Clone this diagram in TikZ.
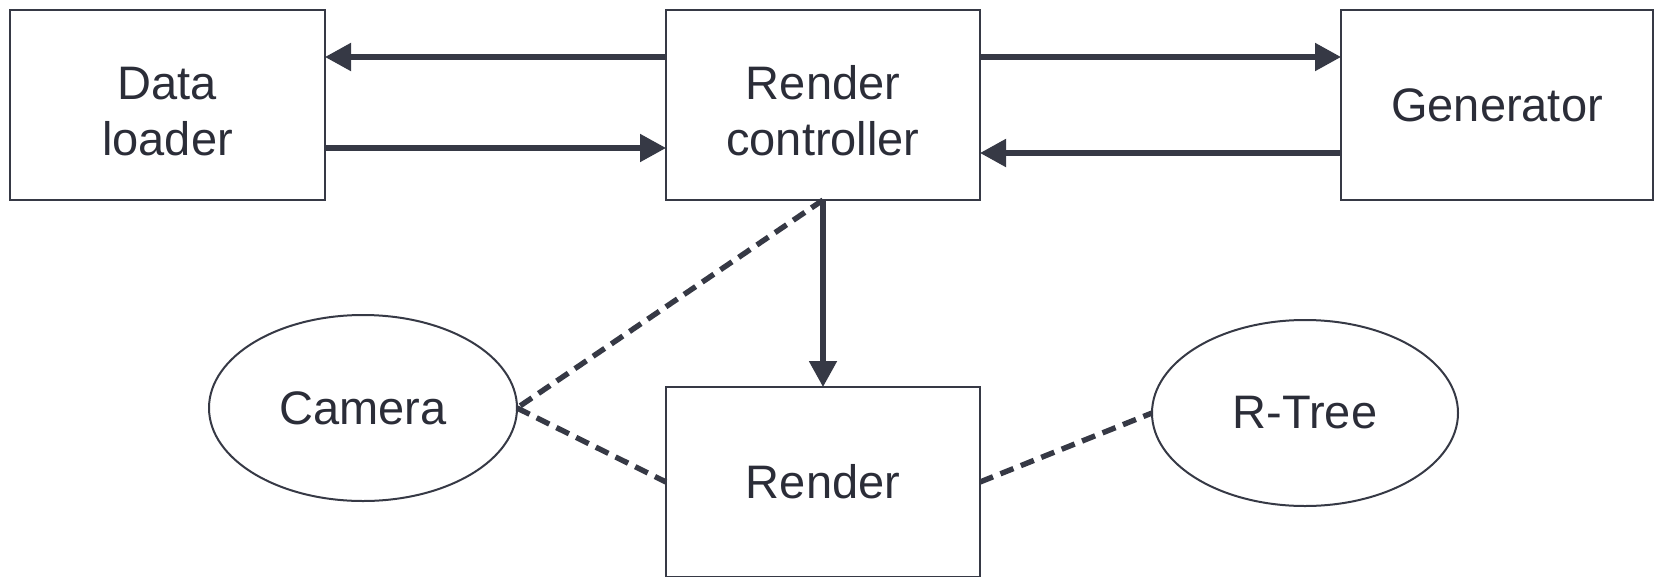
\documentclass[tikz,border=0pt]{standalone}
\usepackage{fontspec}
\setmainfont{Liberation Sans}
\usetikzlibrary{arrows.meta,shapes.geometric}
\definecolor{ink}{RGB}{54,57,69}
\definecolor{txt}{RGB}{43,45,56}
\tikzset{
  box/.style={draw=ink, line width=2pt, rectangle, inner sep=0pt, outer sep=0pt,
    text=txt, align=center, font=\fontsize{47}{56}\selectfont},
  twoline/.style={text height=101pt},
  oval/.style={draw=ink, line width=2pt, ellipse, inner sep=0pt, outer sep=0pt,
    text=txt, align=center, font=\fontsize{47}{56}\selectfont},
  arr/.style={draw=ink, line width=5.2pt, -{Triangle[length=26pt,width=27pt]}},
  dsh/.style={draw=ink, line width=5.4pt, dash pattern=on 14pt off 8pt},
}
\begin{document}
\begin{tikzpicture}[x=1pt,y=-1pt]
\useasboundingbox (0,0) rectangle (1654,576);
\node[box, twoline, minimum width=315pt, minimum height=190pt] (dl) at (167.5,105) {Data\\loader};
\node[box, twoline, minimum width=314pt, minimum height=190pt] (rc) at (823,105) {Render\\controller};
\node[box, minimum width=312pt, minimum height=190pt] (gen) at (1497,105) {Generator};
\node[box, minimum width=314pt, minimum height=190pt] (rd) at (823,482) {Render};
\node[oval, minimum width=308pt, minimum height=186pt] (cam) at (363,408) {Camera};
\node[oval, minimum width=306pt, minimum height=186pt] (rt) at (1305,413) {R-Tree};

\draw[arr] ([yshift=48pt]rc.west) -- ([yshift=48pt]dl.east);
\draw[arr] ([yshift=-43pt]dl.east) -- ([yshift=-43pt]rc.west);
\draw[arr] ([yshift=48pt]rc.east) -- ([yshift=48pt]gen.west);
\draw[arr] ([yshift=-48pt]gen.west) -- ([yshift=-48pt]rc.east);
\draw[arr] (rc.south) -- (rd.north);
\draw[dsh] (rc.south) -- (cam.east);
\draw[dsh] (cam.east) -- (rd.west);
\draw[dsh] (rd.east) -- (rt.west);
\end{tikzpicture}
\end{document}
